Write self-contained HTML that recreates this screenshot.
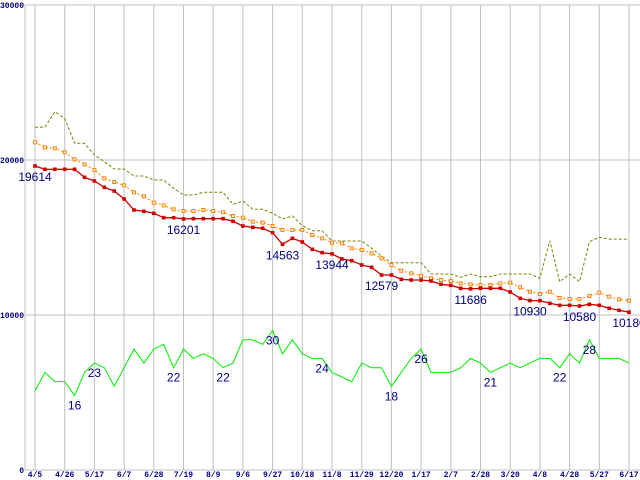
<!DOCTYPE html>
<html><head><meta charset="utf-8"><style>
html,body{margin:0;padding:0;background:#fff;}
svg{display:block;font-family:"Liberation Sans",sans-serif;}
.ax{font-family:"Liberation Mono",monospace;font-size:8px;fill:#000080;font-weight:bold;}
.vl{font-size:12px;fill:#000080;}
</style></head><body>
<svg id="chart" width="640" height="480" viewBox="0 0 640 480" xmlns="http://www.w3.org/2000/svg"></svg>
<script>
const xTickLabels=["4/5","4/26","5/17","6/7","6/28","7/19","8/9","9/6","9/27","10/18","11/8","11/29","12/20","1/17","2/7","2/28","3/20","4/8","4/28","5/27","6/17"];
const yTickValues=[0,10000,20000,30000];
const priceClose=[19614,19400,19400,19400,19400,18884,18645,18237,17998,17484,16774,16688,16559,16280,16280,16201,16215,16215,16215,16215,16043,15742,15656,15591,15311,14563,14946,14710,14237,14022,13944,13613,13505,13226,13075,12579,12580,12301,12258,12258,12194,11980,11914,11720,11686,11720,11720,11720,11484,11075,10930,10925,10752,10624,10624,10580,10688,10624,10430,10301,10180];
const priceAvg=[21140,20817,20752,20495,20043,19720,19355,18817,18580,18366,17914,17656,17247,17075,16817,16710,16710,16774,16710,16624,16387,16280,16021,15957,15742,15484,15484,15484,15161,14946,14667,14624,14301,14194,13979,13656,13226,12860,12688,12516,12366,12258,12194,12043,11978,11935,11935,12043,12086,11785,11505,11355,11505,11097,11032,11032,11226,11441,11183,11011,10925];
const priceHigh=[22108,22108,23118,22688,21075,21075,20322,19892,19419,19419,18968,18968,18710,18710,18172,17742,17742,17914,17914,17914,17140,17355,16817,16817,16559,16193,16387,15763,15441,15441,14774,14774,14774,14774,14300,13800,13376,13376,13376,13376,12645,12645,12645,12430,12645,12473,12473,12645,12645,12645,12645,12366,14796,12150,12645,12150,14731,15011,14900,14900,14900];
const countSeries=[17,21,19,19,16,21,23,22,18,22,26,23,26,27,22,26,24,25,24,22,23,28,28,27,30,25,28,25,24,24,21,20,19,23,22,22,18,21,24,26,21,21,21,22,24,23,21,22,23,22,23,24,24,22,25,23,28,24,24,24,23];
const closeLabelIdx=[0,15,25,30,35,44,50,55,60];
const countLabelIdx=[4,6,14,19,24,29,36,39,46,53,56];

const NS="http://www.w3.org/2000/svg";
const svg=document.getElementById('chart');
const X0=35,X1=629,YB=470,YT=5,VMAX=30000,CMAX=100;
const N=priceClose.length;
function xs(i){return X0+(X1-X0)*i/(N-1);}
function ys(v){return YB-(YB-YT)*v/VMAX;}
function yc(v){return YB-(YB-YT)*v/CMAX;}
function mk(tag,attrs){const e=document.createElementNS(NS,tag);for(const k in attrs)e.setAttribute(k,attrs[k]);svg.appendChild(e);return e;}

// grid
yTickValues.forEach(v=>{
  const l=mk('line',{x1:25,x2:640,y1:ys(v),y2:ys(v),stroke:'#c0c0c0','stroke-width':1});
  
  
  const t=mk('text',{x:24,y:ys(v)+3,'text-anchor':'end',class:'ax'});
  t.textContent=v;
  
  
});
xTickLabels.forEach((s,k)=>{
  const x=X0+(X1-X0)*k/(xTickLabels.length-1);
  const l=mk('line',{x1:x,x2:x,y1:YT,y2:YB,stroke:'#c0c0c0','stroke-width':1});
  
  
  const t=mk('text',{x:x,y:477,'text-anchor':'middle',class:'ax'});
  t.textContent=s;
  
  
});
const ax=mk('line',{x1:25,x2:25,y1:YT,y2:YB,stroke:'#c0c0c0','stroke-width':1});



function pts(arr,f){return arr.map((v,i)=>xs(i).toFixed(1)+','+f(v).toFixed(1)).join(' ');}
const hi=mk('polyline',{points:pts(priceHigh,ys),fill:'none',stroke:'#808000','stroke-width':1,'stroke-dasharray':'3,2'});


const av=mk('polyline',{points:pts(priceAvg,ys),fill:'none',stroke:'#ff8000','stroke-width':1,'stroke-dasharray':'2,2'});


priceAvg.forEach((v,i)=>{
  const r=mk('rect',{x:xs(i)-1.5,y:ys(v)-1.5,width:3,height:3,fill:'#fff',stroke:'#ff8000','stroke-width':1});
  
  
});
const cl=mk('polyline',{points:pts(priceClose,ys),fill:'none',stroke:'#cc0000','stroke-width':1.3});


priceClose.forEach((v,i)=>{
  const r=mk('rect',{x:xs(i)-1.8,y:ys(v)-1.8,width:3.6,height:3.6,fill:'#cc0000'});
  
  
});
const cn=mk('polyline',{points:pts(countSeries,yc),fill:'none',stroke:'#00ee00','stroke-width':1});


closeLabelIdx.forEach(i=>{
  const t=mk('text',{x:xs(i),y:ys(priceClose[i])+15,'text-anchor':'middle',class:'vl'});
  t.textContent=priceClose[i];
  
  
});
countLabelIdx.forEach(i=>{
  const t=mk('text',{x:xs(i),y:yc(countSeries[i])+14,'text-anchor':'middle',class:'vl'});
  t.textContent=countSeries[i];
  
  
});
</script>
</body></html>
